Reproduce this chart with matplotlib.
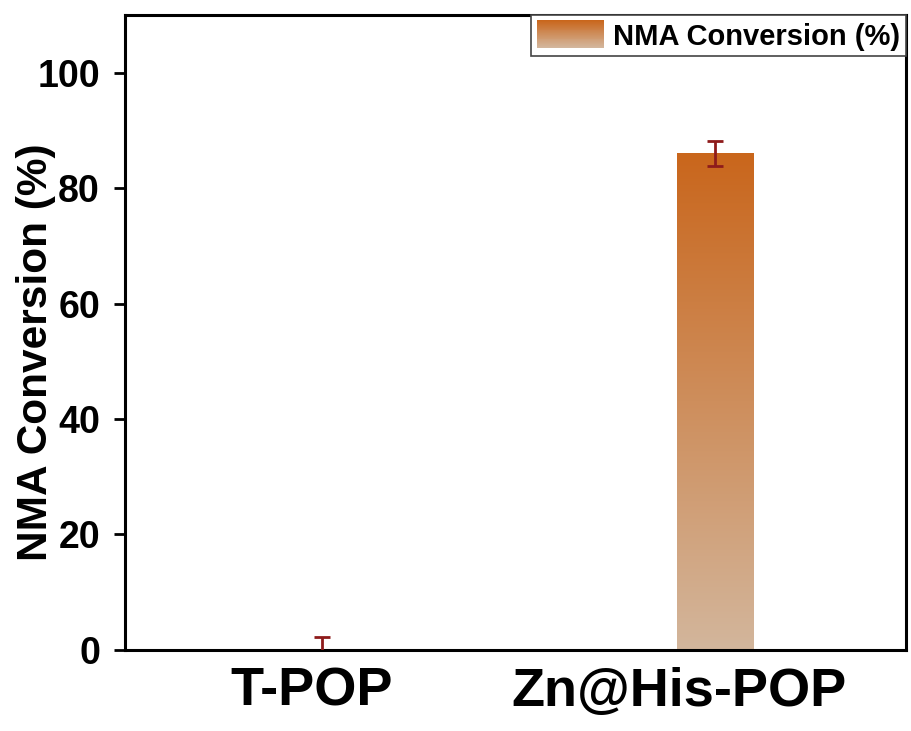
import numpy as np
import matplotlib.pyplot as plt
from matplotlib.colors import LinearSegmentedColormap, to_rgb
from matplotlib.legend_handler import HandlerBase
from matplotlib.patches import Rectangle

# данные
samples = ['T-POP', 'Zn@His-POP']
conversion = [0.0, 86.0]
errors = [2.2, 2.2]

plt.rcParams['font.family'] = ['Liberation Sans', 'DejaVu Sans']
plt.rcParams['font.weight'] = 'bold'

top_color = '#c9661c'
bottom_color = '#d3b69c'
cmap = LinearSegmentedColormap.from_list('grad', [bottom_color, top_color])

fig = plt.figure(figsize=(9.12, 7.31), dpi=100)
ax = fig.add_axes([0.137, 0.111, 0.856, 0.868])

x = np.arange(1, len(samples) + 1)
bar_width = 0.195

bars = ax.bar(x, conversion, width=bar_width, color='none', edgecolor='none',
              label='NMA Conversion (%)')

# градиентная заливка столбцов
grad = np.linspace(1, 0, 256).reshape(-1, 1)
for bar in bars:
    h = bar.get_height()
    if h <= 0:
        continue
    x0 = bar.get_x()
    ax.imshow(grad, cmap=cmap, aspect='auto', origin='upper',
              extent=[x0, x0 + bar.get_width(), 0, h], zorder=2)

ax.errorbar(x, conversion, yerr=errors, fmt='none', ecolor='#8e1b1b',
            elinewidth=2, capsize=6, capthick=2, zorder=3)

ax.set_xlim(0.5, 2.485)
ax.set_ylim(0, 110)
ax.set_yticks([0, 20, 40, 60, 80, 100])
ax.set_xticks([0.975, 1.91])
ax.set_xticklabels(samples, fontsize=39, fontweight='bold')
ax.tick_params(axis='x', length=0, pad=12)
ax.tick_params(axis='y', direction='out', length=8, width=2, labelsize=27, pad=10)
for lab in ax.get_yticklabels():
    lab.set_fontweight('bold')

ax.set_ylabel('NMA Conversion (%)', fontsize=30.5, fontweight='bold')
ax.yaxis.set_label_coords(-0.088, 0.469)

for spine in ax.spines.values():
    spine.set_linewidth(2.2)


class GradientHandler(HandlerBase):
    def create_artists(self, legend, orig_handle, xdescent, ydescent,
                       width, height, fontsize, trans):
        n = 30
        c0 = np.array(to_rgb(bottom_color))
        c1 = np.array(to_rgb(top_color))
        arts = []
        for i in range(n):
            f = 1 - i / (n - 1)
            col = c0 + (c1 - c0) * f
            r = Rectangle((-xdescent, -ydescent + height * (1 - (i + 1) / n)),
                          width, height / n + 0.5, facecolor=col,
                          edgecolor='none', transform=trans)
            arts.append(r)
        return arts


leg = ax.legend(handles=[bars], labels=['NMA Conversion (%)'],
                handler_map={type(bars): GradientHandler()},
                loc='upper right', bbox_to_anchor=(1, 1), borderaxespad=0,
                fontsize=21, fancybox=False, framealpha=1, edgecolor='#444444',
                handlelength=2.3, handleheight=1.05, handletextpad=0.3,
                borderpad=0.2)
leg.get_frame().set_linewidth(1.2)
for t in leg.get_texts():
    t.set_fontweight('bold')

fig.savefig('out.png', dpi=100)
